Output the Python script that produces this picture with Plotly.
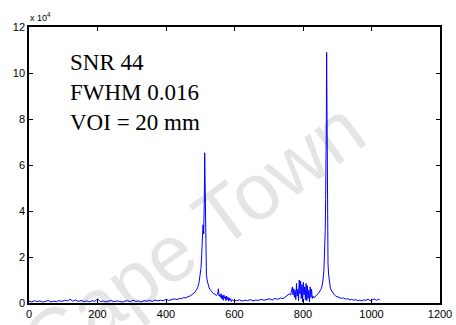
import plotly.graph_objects as go

# Spectrum samples: point index vs. signal amplitude (units of 1e4)
shift_pts = [
    0, 8, 16, 24, 32, 40, 48, 56, 64, 72, 80, 88, 96, 104, 112, 120, 128, 136, 144, 152,
    160, 168, 176, 184, 192, 200, 208, 216, 224, 232, 240, 248, 256, 264, 272, 280, 288, 296,
    304, 312, 320, 328, 336, 344, 352, 360, 368, 376, 384, 392, 400, 408, 416, 424, 432, 440,
    446, 452, 458, 464, 470, 476, 480, 484, 488, 492, 496, 499, 502, 504, 506, 507, 508, 509,
    510, 511, 512, 513, 514, 515, 516, 517, 518, 520, 522, 525, 528, 532, 536, 540, 544, 548,
    551, 553, 555, 557, 559,
    561, 563, 565, 567, 569, 571, 573, 575, 577, 579, 581, 583, 585, 587, 589, 591, 594, 597, 600,
    606, 614, 622, 630, 638, 646, 654, 662, 670, 678, 686, 694, 702, 710, 718, 726, 734, 742,
    750, 756, 760, 764,
    766, 769, 771, 773, 775, 777, 779, 781, 783, 785, 787, 789, 791, 793, 795, 797, 799, 801,
    803, 805, 807, 809, 811, 813, 815, 817, 819, 821, 823, 825, 827, 829, 832, 836, 840,
    844, 848, 852, 855, 858, 861, 863, 865, 866, 867, 868, 869, 870, 871, 872, 873, 875, 877,
    880, 884, 888, 892, 896, 900,
    906, 912, 918, 924, 930, 936, 942, 948, 954, 960, 966, 972, 978, 984, 990, 996, 1002, 1008,
    1014, 1020, 1024,
]
intensity_e4 = [
    .08, .05, .10, .06, .09, .04, .07, .11, .05, .08, .06, .10, .07, .12, .09, .16, .08, .13, .07, .11,
    .06, .09, .05, .10, .07, .18, .06, .09, .05, .08, .11, .06, .09, .07, .04, .08, .10, .06,
    .12, .07, .09, .05, .10, .08, .11, .07, .13, .09, .12, .10, .16, .11, .14, .18, .15, .20,
    .19, .24, .22, .28, .30, .36, .40, .46, .55, .66, .85, 1.10, 1.5, 2.0, 2.7, 3.1, 3.4, 3.3,
    3.0, 3.6, 4.6, 6.53, 5.2, 2.8, 1.9, 1.5, 1.25, 1.0, .85, .70, .60, .50, .45, .40, .36, .33,
    .38, .62, .30, .36, .25,
    .40, .18, .32, .12, .35, .20, .28, .10, .30, .15, .25, .08, .22, .12, .18, .06, .14, .10, .12,
    .10, .14, .08, .12, .10, .15, .09, .13, .11, .16, .12, .14, .18, .13, .20, .16, .22, .19,
    .28, .32, .40, .35,
    .45, .70, .35, .62, .25, .55, .15, .85, .30, .60, .10, 1.0, .40, .95, .20, .80, .05, .90,
    .35, .70, .15, .85, .10, .75, .20, .55, .05, .70, .25, .60, .20, .30, .22, .30, .35,
    .40, .48, .58, .70, .95, 1.4, 2.0, 3.2, 4.5, 5.5, 7.5, 10.9, 6.0, 3.6, 2.4, 1.7, 1.2, .90,
    .65, .52, .42, .35, .30, .27,
    .24, .20, .22, .17, .19, .14, .16, .12, .15, .10, .13, .09, .14, .11, .17, .10, .13, .18,
    .12, .16, .14,
]

x_ticks = [0, 200, 400, 600, 800, 1000, 1200]
y_ticks = [0, 2, 4, 6, 8, 10, 12]
info_lines = ["SNR 44", "FWHM 0.016", "VOI = 20 mm"]

fig = go.Figure()
fig.add_trace(go.Scatter(
    x=shift_pts, y=intensity_e4, mode="lines",
    line=dict(color="#0000ff", width=1), hoverinfo="skip", showlegend=False,
))

axis_common = dict(
    showgrid=False, zeroline=False, showline=True, linecolor="black", linewidth=1.5,
    mirror="ticks", ticks="inside", ticklen=4, tickcolor="black", automargin=False,
    tickfont=dict(family="Liberation Sans, Arial", size=11, color="black"),
)
fig.update_xaxes(range=[0, 1200], tickvals=x_ticks, ticktext=[str(v) for v in x_ticks], **axis_common)
fig.update_yaxes(range=[0, 12], tickvals=y_ticks, ticktext=[str(v) for v in y_ticks], **axis_common)

annotations = [
    dict(xref="paper", yref="paper", x=0.0, y=1.0, xanchor="left", yanchor="bottom",
         text="x 10<sup>4</sup>", showarrow=False, xshift=-1, yshift=2,
         font=dict(family="Liberation Sans, Arial", size=9, color="black")),
    dict(xref="paper", yref="paper", x=0.40, y=0.24, xanchor="center", yanchor="middle",
         text="Cape Town", showarrow=False, textangle=-36,
         font=dict(family="Liberation Sans, Arial", size=80, color="rgba(0,0,0,0.1)")),
]
for i, line in enumerate(info_lines):
    annotations.append(dict(
        xref="paper", yref="paper", x=0.095, y=0.87 - i * 0.108, xanchor="left", yanchor="middle",
        text=line, showarrow=False,
        font=dict(family="Liberation Serif, Times New Roman", size=23, color="black"),
    ))

fig.update_layout(
    width=456, height=325, margin=dict(l=29, r=16, t=27, b=22),
    paper_bgcolor="white", plot_bgcolor="white", annotations=annotations,
)
fig.write_html("out.html")
